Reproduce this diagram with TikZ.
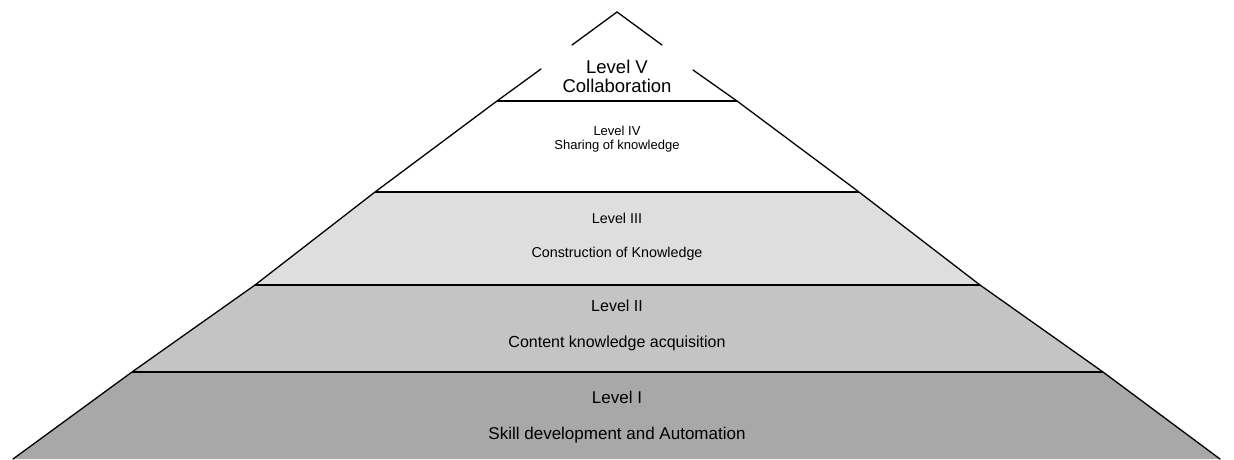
\documentclass[tikz,border=0pt]{standalone}
\usepackage{fontspec}
\setmainfont{Liberation Sans}
\begin{document}
\begin{tikzpicture}[x=1pt,y=-1pt,
  side/.style={draw=black,line width=1.3pt,line cap=round},
  tier/.style={draw=black,line width=2.4pt},
  lbl/.style={anchor=base,inner sep=0pt,text=black}]
\useasboundingbox (0,0) rectangle (1234,459);
\fill[white] (0,0) rectangle (1234,459);
% key points
\coordinate (A) at (617,12);
\coordinate (L1) at (497,101); \coordinate (R1) at (737,101);
\coordinate (L2) at (375,192); \coordinate (R2) at (859,192);
\coordinate (L3) at (255,285); \coordinate (R3) at (980,285);
\coordinate (L4) at (132,372); \coordinate (R4) at (1103,372);
\coordinate (L5) at (13,459);  \coordinate (R5) at (1220,459);
\coordinate (Lg1) at (572,45); \coordinate (Lg2) at (541,69);
\coordinate (Rg1) at (662,45); \coordinate (Rg2) at (693,70);
% fills
\fill[black!13] (L2) -- (R2) -- (R3) -- (L3) -- cycle;
\fill[black!23] (L3) -- (R3) -- (R4) -- (L4) -- cycle;
\fill[black!34] (L4) -- (R4) -- (R5) -- (L5) -- cycle;
% sides
\draw[side] (A) -- (Lg1);
\draw[side] (A) -- (Rg1);
\draw[side] (Lg2) -- (L1) -- (L2) -- (L3) -- (L4) -- (L5);
\draw[side] (Rg2) -- (R1) -- (R2) -- (R3) -- (R4) -- (R5);
% tiers
\draw[tier] (L1) -- (R1);
\draw[tier] (L2) -- (R2);
\draw[tier] (L3) -- (R3);
\draw[tier] (L4) -- (R4);
% labels
\node[lbl,font=\fontsize{18.5}{20}\selectfont] (t5a) at (617,73.7) {Level V};
\node[lbl,font=\fontsize{18.5}{20}\selectfont] (t5b) at (617,92.7) {Collaboration};
\node[lbl,font=\fontsize{13}{14}\selectfont] (t4a) at (617,135.7) {Level IV};
\node[lbl,font=\fontsize{13}{14}\selectfont] (t4b) at (617,149.5) {Sharing of knowledge};
\node[lbl,font=\fontsize{14.3}{16}\selectfont] (t3a) at (617,223) {Level III};
\node[lbl,font=\fontsize{14.3}{16}\selectfont] (t3b) at (617,257) {Construction of Knowledge};
\node[lbl,font=\fontsize{16}{18}\selectfont] (t2a) at (617,311.8) {Level II};
\node[lbl,font=\fontsize{16}{18}\selectfont] (t2b) at (617,347.8) {Content knowledge acquisition};
\node[lbl,font=\fontsize{17}{19}\selectfont] (t1a) at (617,403) {Level I};
\node[lbl,font=\fontsize{17}{19}\selectfont] (t1b) at (617,439) {Skill development and Automation};
\end{tikzpicture}
\end{document}
